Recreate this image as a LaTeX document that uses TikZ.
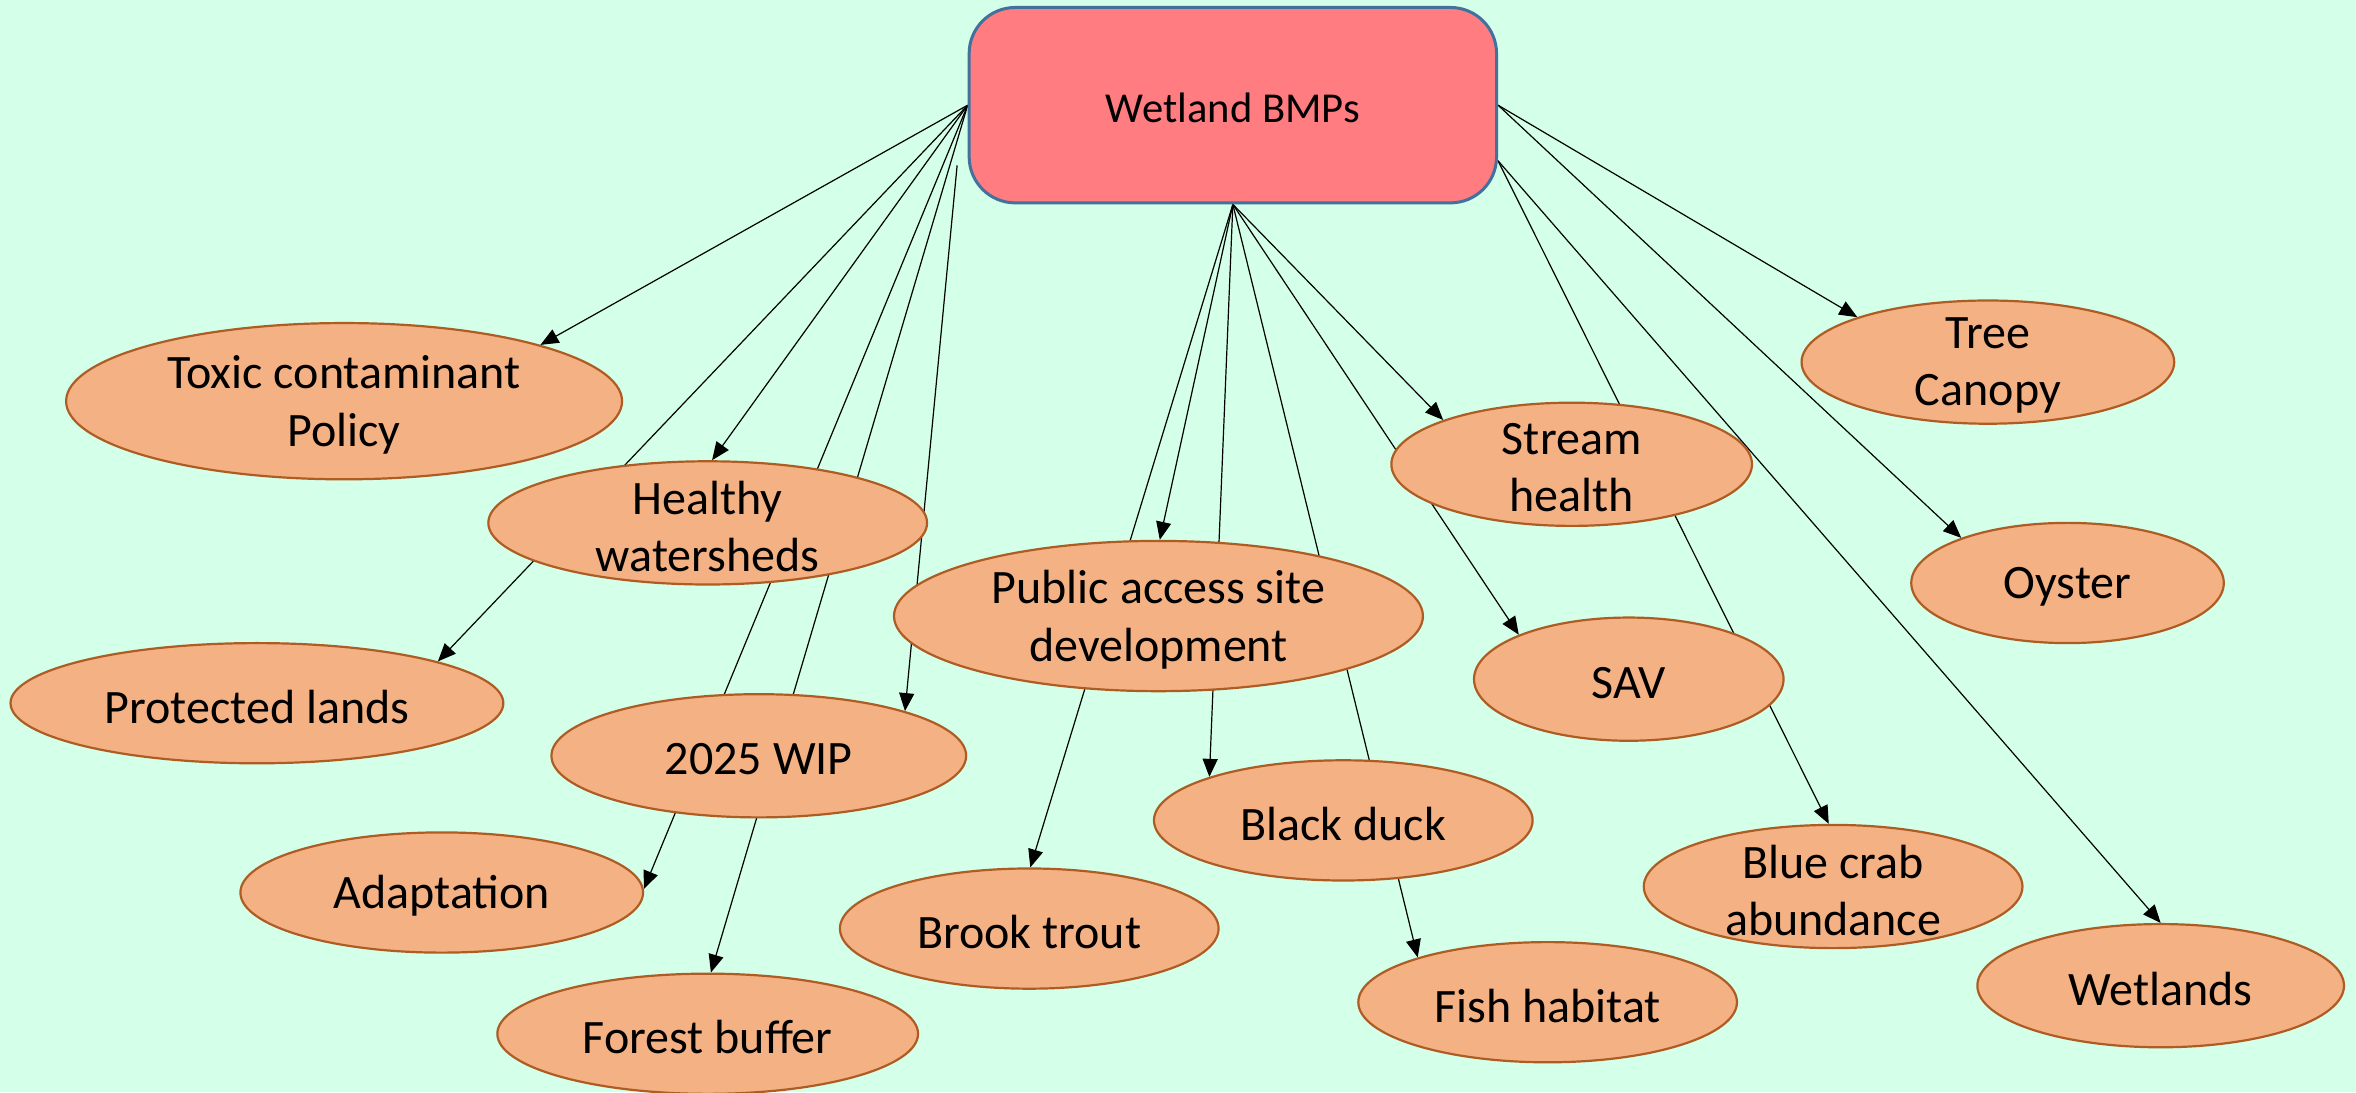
\documentclass[tikz,border=0pt]{standalone}
\usepackage{fontspec}
\setmainfont{Carlito}
\usetikzlibrary{shapes.geometric,arrows.meta}
\definecolor{bgmint}{RGB}{212,255,233}
\definecolor{leaffill}{RGB}{244,177,131}
\definecolor{leafline}{RGB}{174,92,36}
\definecolor{boxfill}{RGB}{255,124,128}
\definecolor{boxline}{RGB}{65,113,156}
\pgfdeclarelayer{bg}
\pgfsetlayers{bg,main}
\begin{document}
\begin{tikzpicture}[x=0.7513pt,y=-0.7513pt,
  leaf/.style 2 args={ellipse, draw=leafline, fill=leaffill, line width=1.1pt,
    inner sep=0pt, minimum width={#1*1.5026pt}, minimum height={#2*1.5026pt}},
  lbl/.style={font=\fontsize{24}{28.6}\selectfont, align=center, inner sep=0pt, yshift=-1.8pt},
  link/.style={line width=0.6pt, -{Triangle[length=9pt,width=7.5pt]}}]

\useasboundingbox (0,0) rectangle (1568,727);

% central box
\node[draw=boxline, fill=boxfill, line width=1.5pt, rounded corners=23pt,
  minimum width=263.7pt, minimum height=97.7pt, inner sep=0pt,
  font=\fontsize{21.3}{25}\selectfont] (bmp) at (820.5,70) {};
\node[font=\fontsize{21.3}{25}\selectfont, inner sep=0pt, yshift=-1.5pt] (bmp-t) at (bmp) {Wetland BMPs};
\coordinate (bmpR) at ([yshift=-27.8pt]bmp.east);
\coordinate (wipstart) at (637,110);

% outcome ellipses
\node[leaf={185}{52}] (toxic)   at (229,267) {};
\node[leaf={146}{41}] (healthy) at (471,348) {};
\node[leaf={164}{40}] (prot)    at (171,468) {};
\node[leaf={138}{41}] (wip)     at (505,503) {};
\node[leaf={134}{40}] (adapt)   at (294,594) {};
\node[leaf={140}{40}] (forest)  at (471,688) {};
\node[leaf={176}{50}] (public)  at (771,410) {};
\node[leaf={126}{40}] (brook)   at (685,618) {};
\node[leaf={126}{40}] (duck)    at (894,546) {};
\node[leaf={126}{40}] (fish)    at (1030,667) {};
\node[leaf={120}{41}] (stream)  at (1046,309) {};
\node[leaf={103}{41}] (sav)     at (1084,452) {};
\node[leaf={126}{41}] (crab)    at (1220,590) {};
\node[leaf={124}{41}] (tree)    at (1323,241) {};
\node[leaf={104}{40}] (oyster)  at (1376,388) {};
\node[leaf={122}{41}] (wet)     at (1438,656) {};

% ellipse texts
\node[lbl] (toxic-t)   at (toxic)   {Toxic contaminant\\Policy};
\node[lbl] (healthy-t) at (healthy) {Healthy\\watersheds};
\node[lbl] (prot-t)    at (prot)    {Protected lands};
\node[lbl] (wip-t)     at (wip)     {2025 WIP};
\node[lbl] (adapt-t)   at (adapt)   {Adaptation};
\node[lbl] (forest-t)  at (forest)  {Forest buffer};
\node[lbl] (public-t)  at (public)  {Public access site\\development};
\node[lbl] (brook-t)   at (brook)   {Brook trout};
\node[lbl] (duck-t)    at (duck)    {Black duck};
\node[lbl] (fish-t)    at (fish)    {Fish habitat};
\node[lbl] (stream-t)  at (stream)  {Stream\\health};
\node[lbl] (sav-t)     at (sav)     {SAV};
\node[lbl] (crab-t)    at (crab)    {Blue crab\\abundance};
\node[lbl] (tree-t)    at (tree)    {Tree\\Canopy};
\node[lbl] (oyster-t)  at (oyster)  {Oyster};
\node[lbl] (wet-t)     at (wet)     {Wetlands};

% background and connectors, kept behind the shapes
\begin{pgfonlayer}{bg}
  \fill[bgmint] (0,0) rectangle (1568,727);
  \draw[link] (bmp.west) -- (toxic.16.6);
  \draw[link] (bmp.west) -- (prot.13.8);
  \draw[link] (bmp.west) -- (healthy.86);
  \draw[link] (bmp.west) -- (adapt.1.7);
  \draw[link] (bmp.west) -- (forest.87);
  \draw[link] (wipstart) -- (wip.17.9);
  \draw[link] (bmp.south) -- (brook.89);
  \draw[link] (bmp.south) -- (public.89);
  \draw[link] (bmp.south) -- (duck.162.3);
  \draw[link] (bmp.south) -- (fish.161.4);
  \draw[link] (bmp.south) -- (sav.158.5);
  \draw[link] (bmp.south) -- (stream.161.4);
  \draw[link] (bmp.east) -- (tree.161.6);
  \draw[link] (bmp.east) -- (oyster.157.9);
  \draw[link] (bmpR) -- (crab.94);
  \draw[link] (bmpR) -- (wet.90);
\end{pgfonlayer}
\end{tikzpicture}
\end{document}
